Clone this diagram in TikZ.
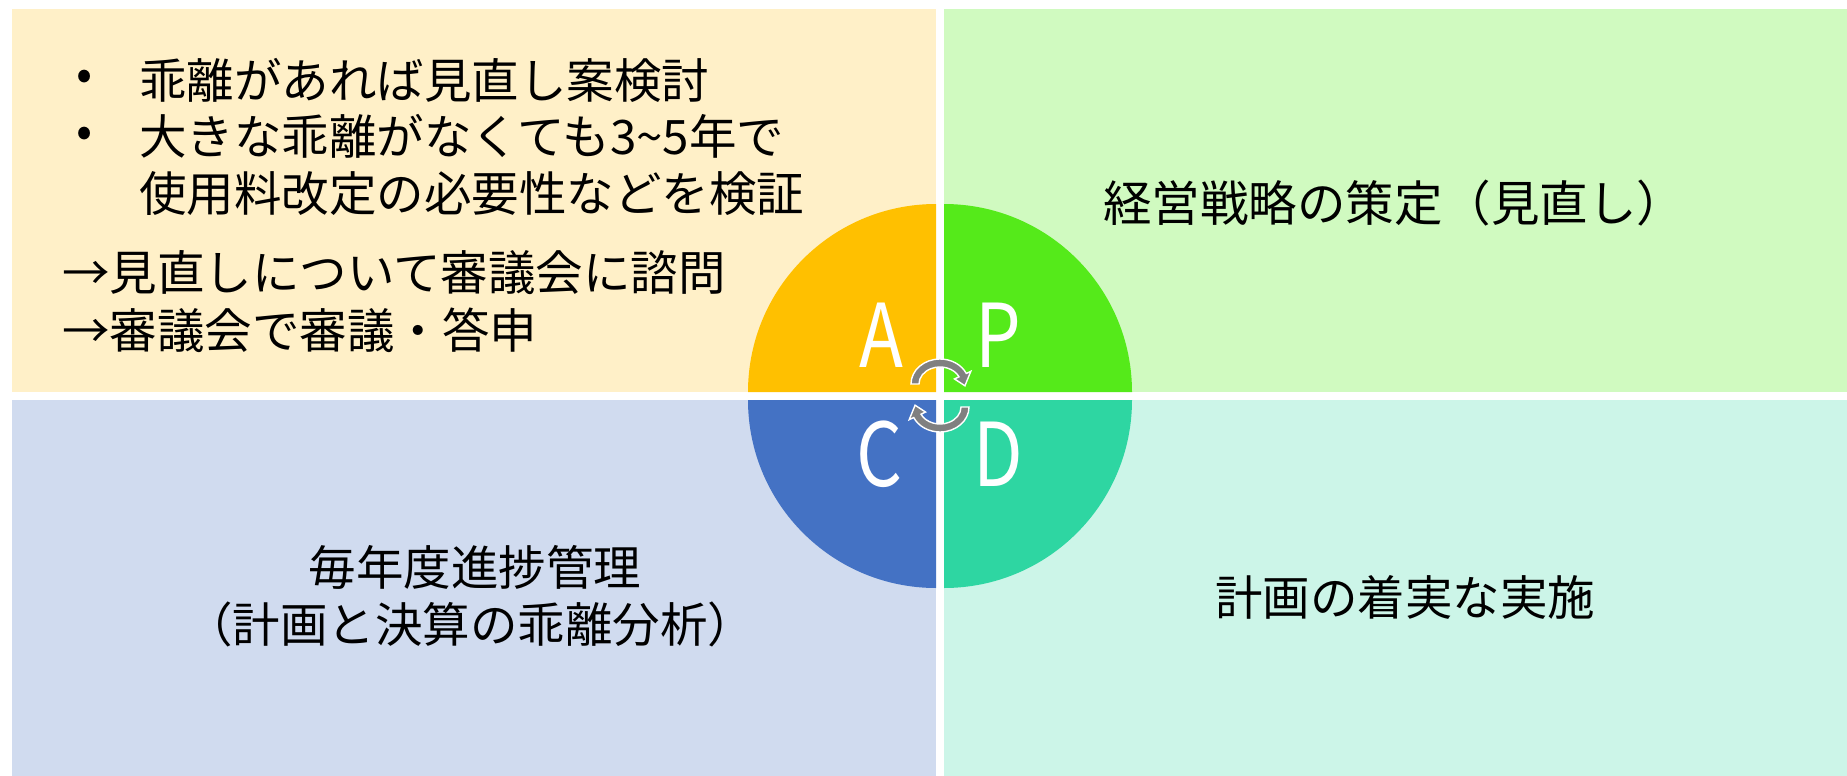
\documentclass[tikz,border=0pt]{standalone}
\usepackage{fontspec}
\newfontfamily\jpmain{Noto Sans CJK JP}
\newfontfamily\jpletter[FakeStretch=0.82]{Noto Sans CJK JP}
\definecolor{tlbg}{HTML}{FFF0C8}
\definecolor{trbg}{HTML}{D0FAC0}
\definecolor{blbg}{HTML}{D0DBEF}
\definecolor{brbg}{HTML}{CCF5E8}
\definecolor{qa}{HTML}{FFC000}
\definecolor{qp}{HTML}{55EA1A}
\definecolor{qc}{HTML}{4472C4}
\definecolor{qd}{HTML}{2ED6A2}
\definecolor{arrowgray}{HTML}{808080}
\begin{document}
\begin{tikzpicture}[x=1pt,y=-1pt,
  every node/.style={inner sep=0pt,outer sep=0pt},
  bodytext/.style={font=\jpmain\fontsize{47.5}{56}\selectfont,text=black},
  widetext/.style={font=\jpmain\fontsize{48.5}{56}\selectfont,text=black},
  pdcaletter/.style={font=\jpletter\fontsize{88}{100}\selectfont,text=white},
  cyclearrow/.style={fill=arrowgray,draw=white,line width=1.4pt,line join=miter}]
\useasboundingbox (0,0) rectangle (1847,776);
\fill[white] (0,0) rectangle (1847,776);
% panels
\fill[tlbg] (12,9) rectangle (936,392);
\fill[trbg] (944,9) rectangle (1847,392);
\fill[blbg] (12,400) rectangle (936,776);
\fill[brbg] (944,400) rectangle (1847,776);
% quarter circles
\fill[qa] (936,392) -- ++(-188,0) arc[start angle=180,end angle=270,radius=188] -- cycle;
\fill[qp] (944,392) -- ++(0,-188) arc[start angle=270,end angle=360,radius=188] -- cycle;
\fill[qd] (944,400) -- ++(188,0) arc[start angle=0,end angle=90,radius=188] -- cycle;
\fill[qc] (936,400) -- ++(0,188) arc[start angle=90,end angle=180,radius=188] -- cycle;
% letters
\node[pdcaletter] (la) at (881,335) {A};
\node[pdcaletter] (lp) at (998,335) {P};
\node[pdcaletter] (lc) at (880,454) {C};
\node[pdcaletter] (ld) at (998,454) {D};
% cycle arrows
\begin{scope}[shift={(940,384)}]
\filldraw[cyclearrow] (180:29 and 25) arc[start angle=180,end angle=335,x radius=29,y radius=25]
  -- (335:34 and 30) -- (365:25 and 21) -- (335:16 and 12) -- (335:21 and 17)
  arc[start angle=335,end angle=180,x radius=21,y radius=17] -- cycle;
\end{scope}
\begin{scope}[shift={(940,407)},rotate=180]
\filldraw[cyclearrow] (180:29 and 25) arc[start angle=180,end angle=335,x radius=29,y radius=25]
  -- (335:34 and 30) -- (365:25 and 21) -- (335:16 and 12) -- (335:21 and 17)
  arc[start angle=335,end angle=180,x radius=21,y radius=17] -- cycle;
\end{scope}
% top-left text
\node[bodytext] (b1) at (85,80) {•};
\node[bodytext] (b2) at (85,137) {•};
\node[bodytext,anchor=west] (t1) at (139,80) {乖離があれば見直し案検討};
\node[bodytext,anchor=west] (t2) at (139,136) {大きな乖離がなくても3\textasciitilde 5年で};
\node[bodytext,anchor=west] (t3) at (139,194) {使用料改定の必要性などを検証};
\node[bodytext,anchor=west] (t4) at (62,273) {→見直しについて審議会に諮問};
\node[bodytext,anchor=west] (t5) at (62,330) {→審議会で審議・答申};
% top-right
\node[widetext] (pt) at (1394,203) {経営戦略の策定（見直し）};
% bottom-left
\node[bodytext] (c1) at (475,567) {毎年度進捗管理};
\node[bodytext] (c2) at (470,624) {（計画と決算の乖離分析）};
% bottom-right
\node[bodytext] (d1) at (1405,597) {計画の着実な実施};
\end{tikzpicture}
\end{document}
